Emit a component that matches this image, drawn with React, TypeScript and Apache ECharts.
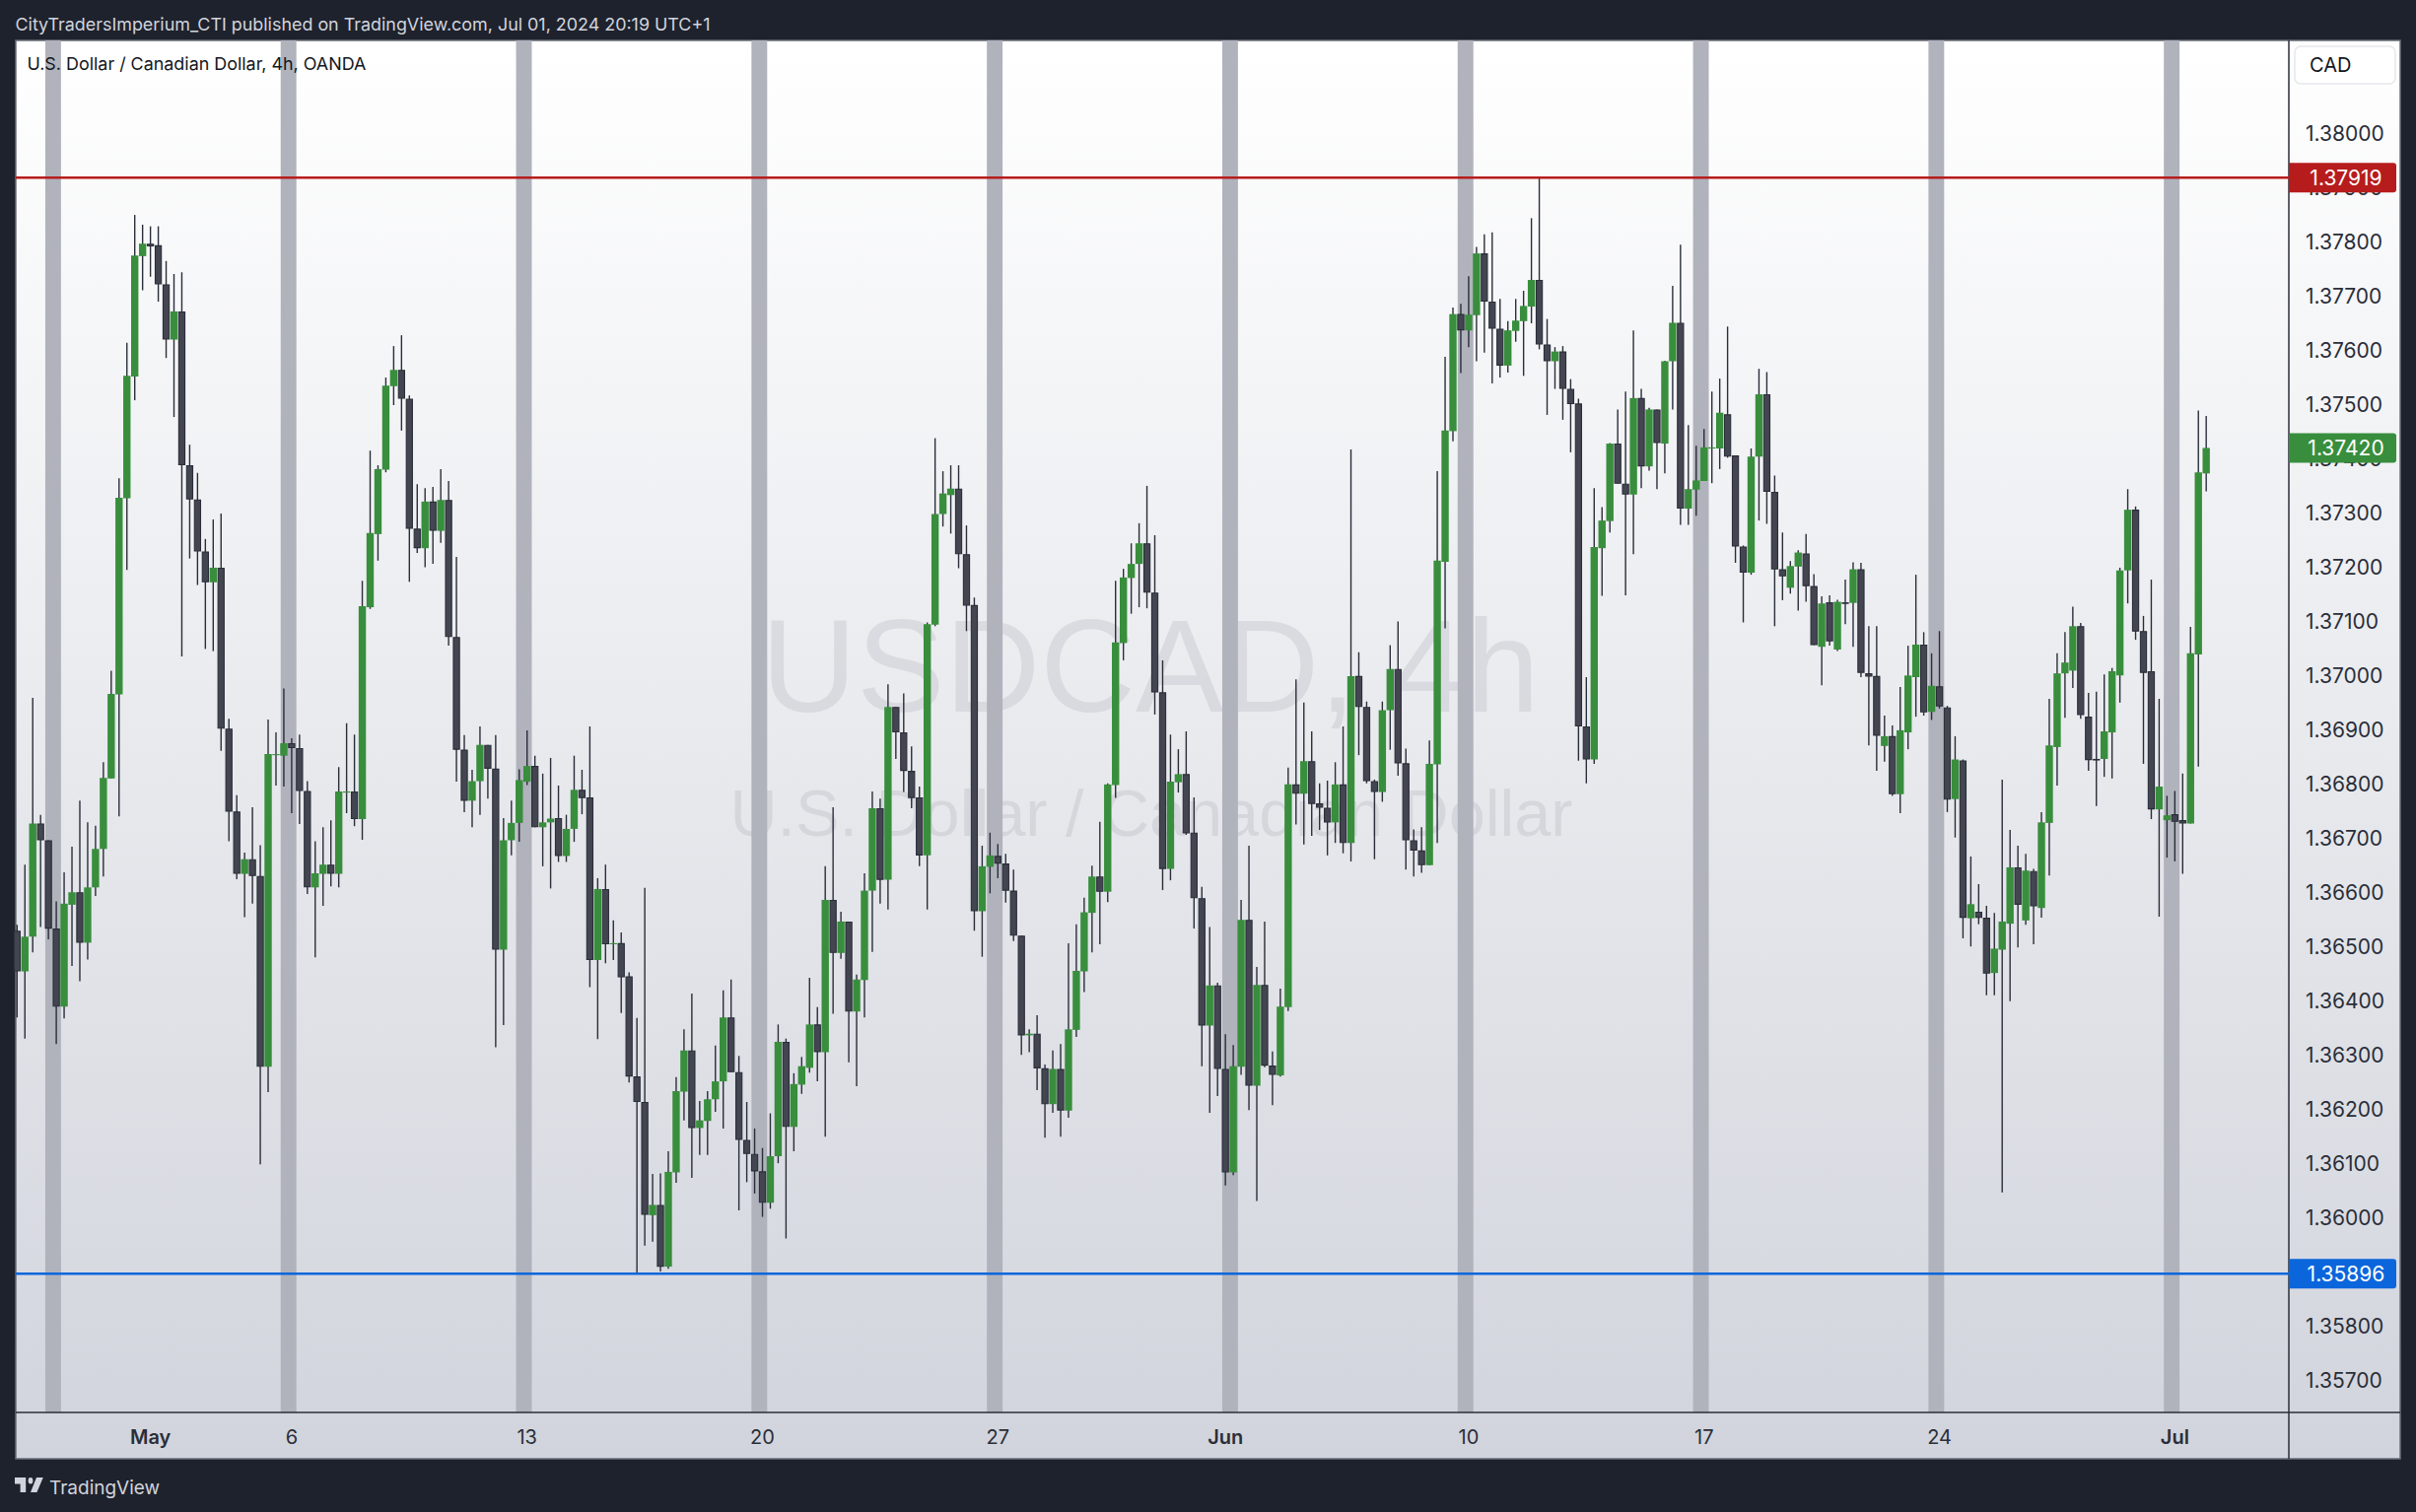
import { useEffect, useRef } from "react";
import * as echarts from "echarts";

const opens = [
  1.36529,1.36454,1.36518,1.36727,1.36696,1.36533,1.36389,1.36577,1.36600,1.36507,
  1.36609,1.36680,1.36810,1.36965,1.37327,1.37552,1.37774,1.37797,1.37794,1.37722,
  1.37620,1.37672,1.37388,1.37325,1.37229,1.37172,1.37199,1.36902,1.36749,1.36634,
  1.36661,1.36630,1.36278,1.36853,1.36852,1.36875,1.36866,1.36787,1.36609,1.36634,
  1.36651,1.36634,1.36784,1.36786,1.36735,1.37126,1.37261,1.37380,1.37534,1.37564,
  1.37511,1.37271,1.37235,1.37321,1.37267,1.37324,1.37071,1.36863,1.36769,1.36805,
  1.36872,1.36828,1.36494,1.36696,1.36728,1.36804,1.36833,1.36720,1.36729,1.36737,
  1.36667,1.36717,1.36789,1.36775,1.36475,1.36606,1.36504,1.36506,1.36445,1.36260,
  1.36213,1.36004,1.36023,1.35909,1.36083,1.36232,1.36308,1.36165,1.36178,1.36218,
  1.36251,1.36369,1.36268,1.36143,1.36117,1.36085,1.36027,1.36113,1.36324,1.36167,
  1.36245,1.36276,1.36356,1.36305,1.36586,1.36488,1.36546,1.36380,1.36438,1.36603,
  1.36755,1.36623,1.36942,1.36895,1.36824,1.36775,1.36668,1.37094,1.37298,1.37333,
  1.37345,1.37224,1.37130,1.36565,1.36647,1.36667,1.36653,1.36603,1.36520,1.36336,
  1.36339,1.36275,1.36209,1.36274,1.36197,1.36346,1.36454,1.36562,1.36629,1.36601,
  1.36798,1.37060,1.37180,1.37206,1.37244,1.37153,1.36969,1.36643,1.36803,1.36818,
  1.36710,1.36589,1.36354,1.36428,1.36274,1.36083,1.36278,1.36549,1.36243,1.36429,
  1.36280,1.36262,1.36388,1.36799,1.36782,1.36842,1.36764,1.36756,1.36729,1.36799,
  1.36691,1.36999,1.36942,1.36805,1.36785,1.36936,1.37012,1.36838,1.36696,1.36677,
  1.36650,1.36836,1.37210,1.37451,1.37667,1.37637,1.37665,1.37779,1.37690,1.37640,
  1.37572,1.37636,1.37654,1.37681,1.37730,1.37611,1.37580,1.37598,1.37529,1.37502,
  1.36906,1.36845,1.37235,1.37285,1.37428,1.37354,1.37334,1.37512,1.37386,1.37491,
  1.37428,1.37580,1.37651,1.37308,1.37343,1.37359,1.37419,1.37419,1.37482,1.37406,
  1.37238,1.37190,1.37404,1.37519,1.37339,1.37196,1.37162,1.37201,1.37225,1.37165,
  1.37053,1.37135,1.37048,1.37135,1.37134,1.37196,1.37004,1.36999,1.36870,1.36888,
  1.36781,1.36895,1.36997,1.37057,1.36933,1.36980,1.36941,1.36772,1.36843,1.36552,
  1.36564,1.36553,1.36451,1.36494,1.36542,1.36646,1.36548,1.36639,1.36571,1.36728,
  1.36868,1.37004,1.37009,1.37091,1.36924,1.36846,1.36846,1.36895,1.37000,1.37194,
  1.37306,1.37082,1.37008,1.36753,1.36733,1.36744,1.36733,1.36727,1.37039,1.37373,
];

const closes = [
  1.36454,1.36518,1.36727,1.36696,1.36533,1.36389,1.36579,1.36600,1.36507,1.36609,
  1.36680,1.36811,1.36966,1.37328,1.37553,1.37775,1.37797,1.37792,1.37722,1.37620,
  1.37672,1.37388,1.37325,1.37229,1.37172,1.37199,1.36902,1.36749,1.36634,1.36661,
  1.36630,1.36278,1.36855,1.36855,1.36875,1.36866,1.36787,1.36609,1.36635,1.36651,
  1.36634,1.36786,1.36786,1.36735,1.37128,1.37263,1.37381,1.37535,1.37564,1.37511,
  1.37271,1.37235,1.37321,1.37267,1.37324,1.37071,1.36863,1.36769,1.36805,1.36872,
  1.36828,1.36494,1.36696,1.36728,1.36807,1.36833,1.36720,1.36729,1.36736,1.36667,
  1.36717,1.36789,1.36774,1.36475,1.36606,1.36504,1.36506,1.36443,1.36260,1.36213,
  1.36005,1.36023,1.35909,1.36084,1.36233,1.36308,1.36165,1.36179,1.36218,1.36251,
  1.36369,1.36268,1.36143,1.36117,1.36085,1.36027,1.36113,1.36324,1.36167,1.36246,
  1.36279,1.36356,1.36305,1.36586,1.36488,1.36546,1.36380,1.36439,1.36603,1.36755,
  1.36623,1.36942,1.36895,1.36824,1.36774,1.36668,1.37095,1.37298,1.37336,1.37345,
  1.37224,1.37129,1.36565,1.36648,1.36668,1.36653,1.36603,1.36520,1.36336,1.36339,
  1.36275,1.36209,1.36274,1.36197,1.36347,1.36455,1.36563,1.36629,1.36601,1.36799,
  1.37061,1.37181,1.37206,1.37244,1.37153,1.36969,1.36643,1.36804,1.36818,1.36709,
  1.36589,1.36354,1.36428,1.36274,1.36083,1.36279,1.36549,1.36243,1.36429,1.36280,
  1.36263,1.36389,1.36799,1.36782,1.36842,1.36763,1.36756,1.36729,1.36799,1.36691,
  1.36999,1.36942,1.36805,1.36785,1.36936,1.37012,1.36838,1.36696,1.36677,1.36650,
  1.36837,1.37212,1.37452,1.37667,1.37637,1.37666,1.37779,1.37690,1.37640,1.37572,
  1.37637,1.37655,1.37682,1.37730,1.37611,1.37580,1.37598,1.37529,1.37501,1.36906,
  1.36845,1.37237,1.37286,1.37428,1.37354,1.37334,1.37512,1.37386,1.37491,1.37429,
  1.37580,1.37651,1.37308,1.37344,1.37360,1.37421,1.37421,1.37485,1.37404,1.37238,
  1.37190,1.37404,1.37519,1.37339,1.37196,1.37183,1.37202,1.37227,1.37165,1.37056,
  1.37133,1.37063,1.37136,1.37134,1.37196,1.37005,1.36998,1.36889,1.36888,1.36781,
  1.36899,1.37000,1.37057,1.36932,1.36981,1.36943,1.36771,1.36845,1.36553,1.36578,
  1.36553,1.36450,1.36496,1.36546,1.36646,1.36577,1.36640,1.36574,1.36729,1.36871,
  1.37004,1.37024,1.37091,1.36927,1.36844,1.36845,1.36897,1.37008,1.37194,1.37306,
  1.37081,1.37005,1.36753,1.36795,1.36742,1.36730,1.36727,1.37041,1.37375,1.37420,
];

const highs = [
  1.36540,1.36651,1.36959,1.36743,1.36696,1.36583,1.36637,1.36684,1.36769,1.36729,
  1.36723,1.36840,1.37009,1.37364,1.37614,1.37850,1.37832,1.37829,1.37829,1.37765,
  1.37741,1.37744,1.37426,1.37374,1.37252,1.37288,1.37299,1.36920,1.36779,1.36673,
  1.36757,1.36687,1.36919,1.36895,1.36976,1.36884,1.36891,1.36805,1.36694,1.36720,
  1.36733,1.36831,1.36912,1.36891,1.37175,1.37415,1.37388,1.37550,1.37608,1.37628,
  1.37517,1.37353,1.37346,1.37348,1.37381,1.37359,1.37219,1.36890,1.36826,1.36906,
  1.36872,1.36890,1.36737,1.36769,1.36827,1.36899,1.36852,1.36819,1.36848,1.36797,
  1.36743,1.36852,1.36826,1.36906,1.36626,1.36651,1.36548,1.36526,1.36452,1.36368,
  1.36608,1.36080,1.36081,1.36122,1.36259,1.36347,1.36413,1.36215,1.36233,1.36317,
  1.36419,1.36439,1.36298,1.36213,1.36164,1.36128,1.36192,1.36356,1.36330,1.36266,
  1.36296,1.36442,1.36388,1.36648,1.36757,1.36564,1.36546,1.36448,1.36635,1.36786,
  1.36773,1.36984,1.36942,1.36967,1.36869,1.36795,1.37098,1.37438,1.37377,1.37388,
  1.37388,1.37277,1.37144,1.36686,1.36710,1.36689,1.36671,1.36642,1.36520,1.36347,
  1.36373,1.36282,1.36308,1.36320,1.36506,1.36541,1.36590,1.36649,1.36730,1.36801,
  1.37175,1.37197,1.37244,1.37281,1.37350,1.37259,1.37028,1.36891,1.36864,1.36897,
  1.36775,1.36610,1.36536,1.36433,1.36338,1.36318,1.36586,1.36686,1.36462,1.36546,
  1.36306,1.36422,1.36830,1.36993,1.36950,1.36897,1.36801,1.36806,1.36840,1.36906,
  1.37417,1.37043,1.36952,1.36808,1.36952,1.37056,1.37100,1.36865,1.36716,1.36720,
  1.36880,1.37377,1.37588,1.37679,1.37686,1.37737,1.37791,1.37814,1.37818,1.37695,
  1.37654,1.37695,1.37710,1.37844,1.37919,1.37658,1.37606,1.37608,1.37547,1.37511,
  1.36997,1.37346,1.37311,1.37429,1.37491,1.37524,1.37637,1.37529,1.37494,1.37491,
  1.37581,1.37719,1.37795,1.37462,1.37424,1.37455,1.37524,1.37548,1.37644,1.37406,
  1.37240,1.37419,1.37566,1.37560,1.37369,1.37264,1.37211,1.37231,1.37261,1.37187,
  1.37146,1.37148,1.37140,1.37177,1.37209,1.37208,1.37091,1.37091,1.36926,1.36908,
  1.36979,1.37055,1.37186,1.37080,1.37041,1.37082,1.36944,1.36888,1.36845,1.36666,
  1.36615,1.36575,1.36562,1.36808,1.36715,1.36686,1.36671,1.36643,1.36748,1.36957,
  1.37041,1.37080,1.37127,1.37097,1.36968,1.36970,1.37002,1.37014,1.37199,1.37344,
  1.37312,1.37110,1.37177,1.36957,1.36778,1.36787,1.36819,1.37090,1.37489,1.37479,
];

const lows = [
  1.36369,1.36330,1.36489,1.36536,1.36513,1.36320,1.36367,1.36464,1.36436,1.36476,
  1.36593,1.36629,1.36810,1.36740,1.37195,1.37508,1.37711,1.37736,1.37690,1.37586,
  1.37477,1.37035,1.37216,1.37167,1.37049,1.37045,1.36861,1.36694,1.36624,1.36554,
  1.36579,1.36098,1.36231,1.36797,1.36795,1.36746,1.36726,1.36597,1.36480,1.36575,
  1.36611,1.36609,1.36746,1.36722,1.36697,1.37123,1.37212,1.37375,1.37499,1.37452,
  1.37173,1.37226,1.37200,1.37206,1.37245,1.37055,1.36804,1.36748,1.36720,1.36743,
  1.36773,1.36314,1.36355,1.36668,1.36693,1.36798,1.36720,1.36648,1.36607,1.36656,
  1.36656,1.36693,1.36744,1.36425,1.36329,1.36469,1.36475,1.36377,1.36249,1.35897,
  1.35948,1.35955,1.35900,1.35905,1.36064,1.36179,1.36073,1.36115,1.36115,1.36195,
  1.36164,1.36268,1.36013,1.36065,1.36044,1.36001,1.36016,1.36100,1.35961,1.36122,
  1.36228,1.36267,1.36251,1.36149,1.36376,1.36477,1.36286,1.36242,1.36369,1.36490,
  1.36579,1.36568,1.36846,1.36785,1.36755,1.36648,1.36568,1.37091,1.37275,1.37262,
  1.37198,1.37082,1.36529,1.36481,1.36598,1.36626,1.36581,1.36510,1.36300,1.36305,
  1.36235,1.36147,1.36193,1.36149,1.36184,1.36333,1.36416,1.36489,1.36504,1.36582,
  1.36774,1.37028,1.37114,1.37126,1.37124,1.36928,1.36604,1.36622,1.36784,1.36706,
  1.36533,1.36279,1.36193,1.36224,1.36059,1.36078,1.36263,1.36198,1.36030,1.36277,
  1.36207,1.36260,1.36381,1.36725,1.36688,1.36704,1.36715,1.36668,1.36691,1.36672,
  1.36657,1.36853,1.36801,1.36661,1.36767,1.36863,1.36815,1.36642,1.36629,1.36636,
  1.36650,1.36691,1.37087,1.37432,1.37558,1.37606,1.37580,1.37596,1.37539,1.37550,
  1.37559,1.37616,1.37553,1.37650,1.37602,1.37481,1.37529,1.37472,1.37412,1.36843,
  1.36801,1.36837,1.37147,1.37264,1.37354,1.37148,1.37224,1.37346,1.37378,1.37344,
  1.37373,1.37491,1.37278,1.37278,1.37295,1.37359,1.37355,1.37381,1.37402,1.37208,
  1.37098,1.37186,1.37286,1.37280,1.37091,1.37139,1.37151,1.37120,1.37136,1.37056,
  1.36982,1.37055,1.37045,1.37095,1.37053,1.36997,1.36871,1.36824,1.36841,1.36778,
  1.36746,1.36864,1.36924,1.36926,1.36918,1.36939,1.36748,1.36701,1.36515,1.36500,
  1.36541,1.36410,1.36410,1.36046,1.36399,1.36498,1.36540,1.36504,1.36553,1.36631,
  1.36797,1.36922,1.36977,1.36920,1.36824,1.36759,1.36813,1.36810,1.36950,1.37133,
  1.37066,1.36837,1.36735,1.36555,1.36664,1.36657,1.36634,1.36727,1.36832,1.37340,
];

const priceTicks = [
  1.357,1.358,1.359,1.36,1.361,1.362,1.363,1.364,1.365,1.366,1.367,1.368,
  1.369,1.37,1.371,1.372,1.373,1.374,1.375,1.376,1.377,1.378,1.379,1.38,
];
const dateTickBars = [17, 35, 65, 95, 125, 154, 185, 215, 245, 275];
const dateTickLabels = ["May", "6", "13", "20", "27", "Jun", "10", "17", "24", "Jul"];
const sessionBands = [4.6, 34.6, 64.6, 94.6, 124.6, 154.6, 184.6, 214.6, 244.6, 274.6];
const resistance = 1.37919;
const support = 1.35896;
const lastPrice = 1.3742;

const Y_MIN = 1.3564;
const Y_MAX = 1.381721;

const DARK = "#1e222d";
const UP = "#388e3c";
const DOWN = "#434651";
const EDGE = "#2a2e39";
const UI_FONT = "Inter, 'Noto Sans', sans-serif";

echarts.graphic.registerShape(
  "tvLogo",
  echarts.graphic.extendPath(
    "M14 6H0v6h7v8h7V6ZM28 20h-8l7.5-14H36l-8 14ZM23 9a3 3 0 1 1-6 0a3 3 0 1 1 6 0Z",
    {}
  )
);

function App() {
  const chartRef = useRef<HTMLDivElement>(null);

  useEffect(() => {
    const chart = echarts.init(chartRef.current, null, { renderer: "svg" });

    const option = {
      animation: false,
      backgroundColor: DARK,
      grid: { left: 16, top: 41, width: 2306, height: 1392 },
      xAxis: {
        type: "value",
        min: -0.163,
        max: 289.53,
        axisLine: { show: false },
        axisTick: { show: false },
        splitLine: { show: false },
        axisLabel: {
          customValues: dateTickBars,
          margin: 15,
          hideOverlap: false,
          showMinLabel: true,
          showMaxLabel: true,
          fontFamily: UI_FONT,
          fontSize: 20,
          color: "#2a2e39",
          formatter: (v: number) => {
            const label = dateTickLabels[dateTickBars.indexOf(v)] ?? "";
            return /[A-Za-z]/.test(label) ? `{b|${label}}` : label;
          },
          rich: {
            b: { fontFamily: UI_FONT, fontSize: 20, fontWeight: 600, color: "#2a2e39" },
          },
        },
      },
      yAxis: {
        type: "value",
        position: "right",
        min: Y_MIN,
        max: Y_MAX,
        axisLine: { show: false },
        axisTick: { show: false },
        splitLine: { show: false },
        axisLabel: {
          customValues: priceTicks,
          margin: 17,
          fontFamily: UI_FONT,
          fontSize: 21,
          color: "#2a2e39",
          formatter: (v: number) => v.toFixed(5),
        },
      },
      graphic: {
        elements: [
          {
            type: "rect",
            z: -5,
            shape: { x: 16, y: 41, width: 2419, height: 1439 },
            style: {
              fill: new echarts.graphic.LinearGradient(0, 0, 0, 1, [
                { offset: 0, color: "#ffffff" },
                { offset: 1, color: "#d1d4dc" },
              ]),
              stroke: "#6a6d78",
              lineWidth: 1.5,
            },
          },
          {
            type: "text",
            z: -4,
            style: {
              text: "USDCAD, 4h",
              x: 1167,
              y: 675,
              align: "center",
              verticalAlign: "middle",
              font: "134px 'Liberation Sans'",
              fill: "rgba(120,123,134,0.15)",
            },
          },
          {
            type: "text",
            z: -4,
            style: {
              text: "U.S. Dollar / Canadian Dollar",
              x: 1168,
              y: 825,
              align: "center",
              verticalAlign: "middle",
              font: "66.6px 'Liberation Sans'",
              fill: "rgba(120,123,134,0.15)",
            },
          },
          { type: "line", z: 4, shape: { x1: 16, y1: 1433, x2: 2435, y2: 1433 }, style: { stroke: EDGE, lineWidth: 1.5 } },
          { type: "line", z: 4, shape: { x1: 2322, y1: 41, x2: 2322, y2: 1480 }, style: { stroke: EDGE, lineWidth: 1.5 } },
          {
            type: "text",
            z: 10,
            style: {
              text: "CityTradersImperium_CTI published on TradingView.com, Jul 01, 2024 20:19 UTC+1",
              x: 15.5,
              y: 24,
              verticalAlign: "middle",
              font: `17.9px ${UI_FONT}`,
              fill: "#d1d4dc",
            },
          },
          {
            type: "text",
            z: 10,
            style: {
              text: "U.S. Dollar / Canadian Dollar, 4h, OANDA",
              x: 27.5,
              y: 64,
              verticalAlign: "middle",
              font: `17.9px ${UI_FONT}`,
              fill: "#131722",
            },
          },
          {
            type: "rect",
            z: 10,
            shape: { x: 2328, y: 47, width: 102, height: 38, r: 6 },
            style: { fill: "rgba(255,255,255,0.6)", stroke: "#e6e7ec", lineWidth: 1.5 },
          },
          {
            type: "text",
            z: 11,
            style: {
              text: "CAD",
              x: 2343,
              y: 65.5,
              verticalAlign: "middle",
              font: `20px ${UI_FONT}`,
              fill: "#131722",
            },
          },
          {
            type: "tvLogo",
            z: 10,
            x: 15,
            y: 1492.5,
            scaleX: 0.8,
            scaleY: 1.08,
            style: { fill: "#d1d4dc" },
          },
          {
            type: "text",
            z: 10,
            style: {
              text: "TradingView",
              x: 50,
              y: 1509,
              verticalAlign: "middle",
              font: `19px ${UI_FONT}`,
              fill: "#d1d4dc",
            },
          },
        ],
      },
      series: [
        {
          name: "Sessions",
          type: "custom",
          z: 1,
          silent: true,
          data: sessionBands,
          encode: { x: 0 },
          renderItem: (_: unknown, api: any) => {
            const c = api.value(0);
            const a = api.coord([c - 1, Y_MAX]);
            const b = api.coord([c + 1, Y_MIN]);
            return {
              type: "rect",
              shape: { x: a[0], y: a[1], width: b[0] - a[0], height: b[1] - a[1] },
              style: { fill: "#b0b2bc" },
            };
          },
        },
        {
          name: "USDCAD",
          type: "custom",
          z: 3,
          silent: true,
          data: opens.map((o, i) => [i, o, highs[i], lows[i], closes[i]]),
          encode: { x: 0, y: [1, 2, 3, 4] },
          renderItem: (_: unknown, api: any) => {
            const i = api.value(0);
            const o = api.value(1);
            const c = api.value(4);
            const x = api.coord([i, o])[0];
            const top = api.coord([i, Math.max(o, c)])[1];
            const bottom = api.coord([i, Math.min(o, c)])[1];
            const hi = api.coord([i, api.value(2)])[1];
            const lo = api.coord([i, api.value(3)])[1];
            const up = c >= o;
            const h = Math.max(bottom - top, 1);
            return {
              type: "group",
              children: [
                {
                  type: "line",
                  shape: { x1: x, y1: hi, x2: x, y2: lo },
                  style: { stroke: EDGE, lineWidth: 1.4 },
                },
                up
                  ? {
                      type: "rect",
                      shape: { x: x - 3.7, y: top, width: 7.4, height: h },
                      style: { fill: UP },
                    }
                  : {
                      type: "rect",
                      shape: { x: x - 3.1, y: top + 0.5, width: 6.2, height: Math.max(h - 1, 0.5) },
                      style: { fill: DOWN, stroke: EDGE, lineWidth: 1.1 },
                    },
              ],
            };
          },
        },
        {
          name: "Levels",
          type: "custom",
          z: 5,
          silent: true,
          data: [
            [resistance, 0],
            [support, 1],
            [lastPrice, 2],
          ],
          encode: { y: 0 },
          renderItem: (params: any, api: any) => {
            const v = api.value(0);
            const kind = api.value(1);
            const color = ["#b71c1c", "#0b66dc", UP][kind];
            const y = api.coord([0, v])[1];
            const { x: gx, width: gw } = params.coordSys;
            const right = gx + gw;
            const children: any[] = [
              {
                type: "rect",
                shape: { x: right, y: y - 15, width: 109, height: 30, r: [0, 3, 3, 0] },
                style: { fill: color },
              },
              {
                type: "text",
                style: {
                  legacy: false,
                  text: v.toFixed(5),
                  x: right + 58,
                  y,
                  align: "center",
                  verticalAlign: "middle",
                  fontFamily: UI_FONT,
                  fontSize: 21,
                  fill: "#ffffff",
                },
              },
            ];
            if (kind < 2) {
              children.unshift({
                type: "line",
                shape: { x1: gx, y1: y, x2: right, y2: y },
                style: { stroke: color, lineWidth: 2.5 },
              });
            }
            return { type: "group", children };
          },
        },
      ],
    };

    chart.setOption(option as any);

    return () => {
      chart.dispose();
    };
  }, []);

  return (
    <div
      ref={chartRef}
      style={{ position: "fixed", left: 0, top: 0, width: 2451, height: 1534 }}
    />
  );
}

export default App;
